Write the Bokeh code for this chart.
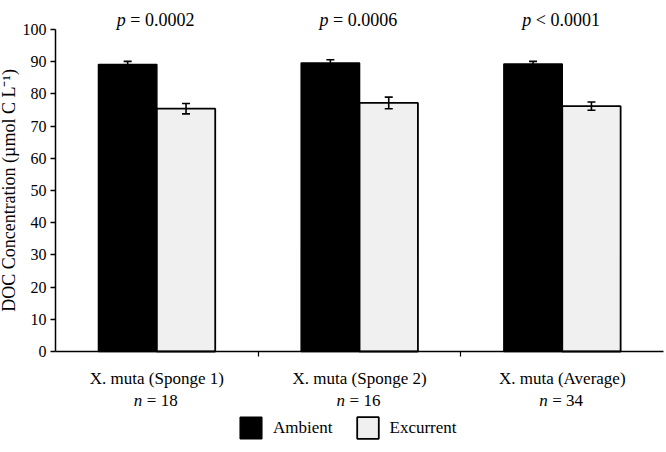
from bokeh.plotting import figure
from bokeh.models import (Range1d, FixedTicker, ColumnDataSource, Whisker, TeeHead,
                          Label, Legend, LegendItem)
from bokeh.embed import file_html
from bokeh.resources import INLINE

groups = ["X. muta (Sponge 1)", "X. muta (Sponge 2)", "X. muta (Average)"]
n_values = ["18", "16", "34"]
p_texts = ["= 0.0002", "= 0.0006", "< 0.0001"]
ambient = [89.1, 89.6, 89.3]
ambient_err = [1.0, 1.0, 0.8]
excurrent = [75.4, 77.2, 76.2]
excurrent_err = [1.6, 1.8, 1.3]
y_ticks = [0, 10, 20, 30, 40, 50, 60, 70, 80, 90, 100]

FONT = "Liberation Serif"

# layout: axes drawn at fixed locations inside a full-canvas frame
W, H = 666, 452
AX_LEFT, AX_BOTTOM = 55.0, 351.0      # pixel position of the axes
PX_X = 202.7                            # pixels per group
PX_Y = 3.22                             # pixels per y unit

centers = [i + 0.5 for i in range(len(groups))]
off = 0.144
bw = 0.288

x_range = Range1d(-AX_LEFT / PX_X, (W - AX_LEFT) / PX_X)
y_range = Range1d(-(H - AX_BOTTOM) / PX_Y, AX_BOTTOM / PX_Y)

p = figure(width=W, height=H, x_range=x_range, y_range=y_range,
           output_backend="svg", toolbar_location=None,
           min_border=0, min_border_left=0, min_border_right=0,
           min_border_top=0, min_border_bottom=0)
p.outline_line_color = None
p.xgrid.visible = False
p.ygrid.visible = False
p.background_fill_color = "white"
p.border_fill_color = "white"

src_a = ColumnDataSource(dict(x=[c - off for c in centers], top=ambient,
                              upper=[v + e for v, e in zip(ambient, ambient_err)],
                              lower=[v - e for v, e in zip(ambient, ambient_err)]))
src_e = ColumnDataSource(dict(x=[c + off for c in centers], top=excurrent,
                              upper=[v + e for v, e in zip(excurrent, excurrent_err)],
                              lower=[v - e for v, e in zip(excurrent, excurrent_err)]))

ra = p.vbar(x="x", top="top", bottom=0, width=bw, source=src_a,
            fill_color="black", line_color="black", line_width=1.5)
re_ = p.vbar(x="x", top="top", bottom=0, width=bw, source=src_e,
             fill_color="#f0f0f0", line_color="black", line_width=1.8)

for src in (src_a, src_e):
    w = Whisker(base="x", upper="upper", lower="lower", source=src, level="overlay",
                line_color="black", line_width=1.6,
                upper_head=TeeHead(size=8, line_color="black", line_width=1.6),
                lower_head=TeeHead(size=8, line_color="black", line_width=1.6))
    p.add_layout(w)

# axes
ya = p.yaxis[0]
ya.fixed_location = 0
ya.bounds = (0, 100)
ya.ticker = FixedTicker(ticks=y_ticks)
ya.minor_tick_line_color = None
ya.major_tick_in = 0
ya.major_tick_out = 5
ya.axis_line_width = 1.5
ya.major_tick_line_width = 1.5
ya.major_label_text_font = FONT
ya.major_label_text_font_size = "16px"
ya.major_label_text_color = "black"
ya.major_label_standoff = 4
ya.axis_label = "DOC Concentration (µmol C L⁻¹)"
ya.axis_label_text_font = FONT
ya.axis_label_text_font_size = "18px"
ya.axis_label_text_font_style = "normal"
ya.axis_label_text_color = "black"
ya.axis_label_standoff = 1

xa = p.xaxis[0]
xa.fixed_location = 0
xa.bounds = (0, 3)
xa.ticker = FixedTicker(ticks=[1, 2])
xa.minor_tick_line_color = None
xa.major_tick_in = 0
xa.major_tick_out = 5
xa.axis_line_width = 1.5
xa.major_tick_line_width = 1.2
xa.major_label_text_alpha = 0
xa.major_label_text_font_size = "1px"

for c, g, n, pt in zip(centers, groups, n_values, p_texts):
    p.add_layout(Label(x=c, y=-8.4, text=g, text_align="center", text_baseline="middle",
                       text_font=FONT, text_font_size="17px", text_color="black"))
    p.add_layout(Label(x=c, y=-15.2, text="n", x_offset=-14.5, text_align="right",
                       text_baseline="middle", text_font=FONT, text_font_size="17px",
                       text_font_style="italic", text_color="black"))
    p.add_layout(Label(x=c, y=-15.2, text="= " + n, x_offset=-10, text_align="left",
                       text_baseline="middle", text_font=FONT, text_font_size="17px",
                       text_color="black"))
    p.add_layout(Label(x=c, y=102.8, text="p", x_offset=-31, text_align="right",
                       text_baseline="middle", text_font=FONT, text_font_size="18px",
                       text_font_style="italic", text_color="black"))
    p.add_layout(Label(x=c, y=102.8, text=pt, x_offset=-26.5, text_align="left",
                       text_baseline="middle", text_font=FONT, text_font_size="18px",
                       text_color="black"))

legend = Legend(items=[LegendItem(label="Ambient", renderers=[ra]),
                       LegendItem(label="Excurrent", renderers=[re_])],
                orientation="horizontal", location=(237, 11),
                glyph_width=27, glyph_height=27, label_standoff=9, spacing=21,
                padding=0, margin=0, border_line_color=None, background_fill_alpha=0,
                label_text_font=FONT, label_text_font_size="17px", label_text_color="black")
p.add_layout(legend, "center")

open("out.html", "w").write(file_html(p, INLINE))
